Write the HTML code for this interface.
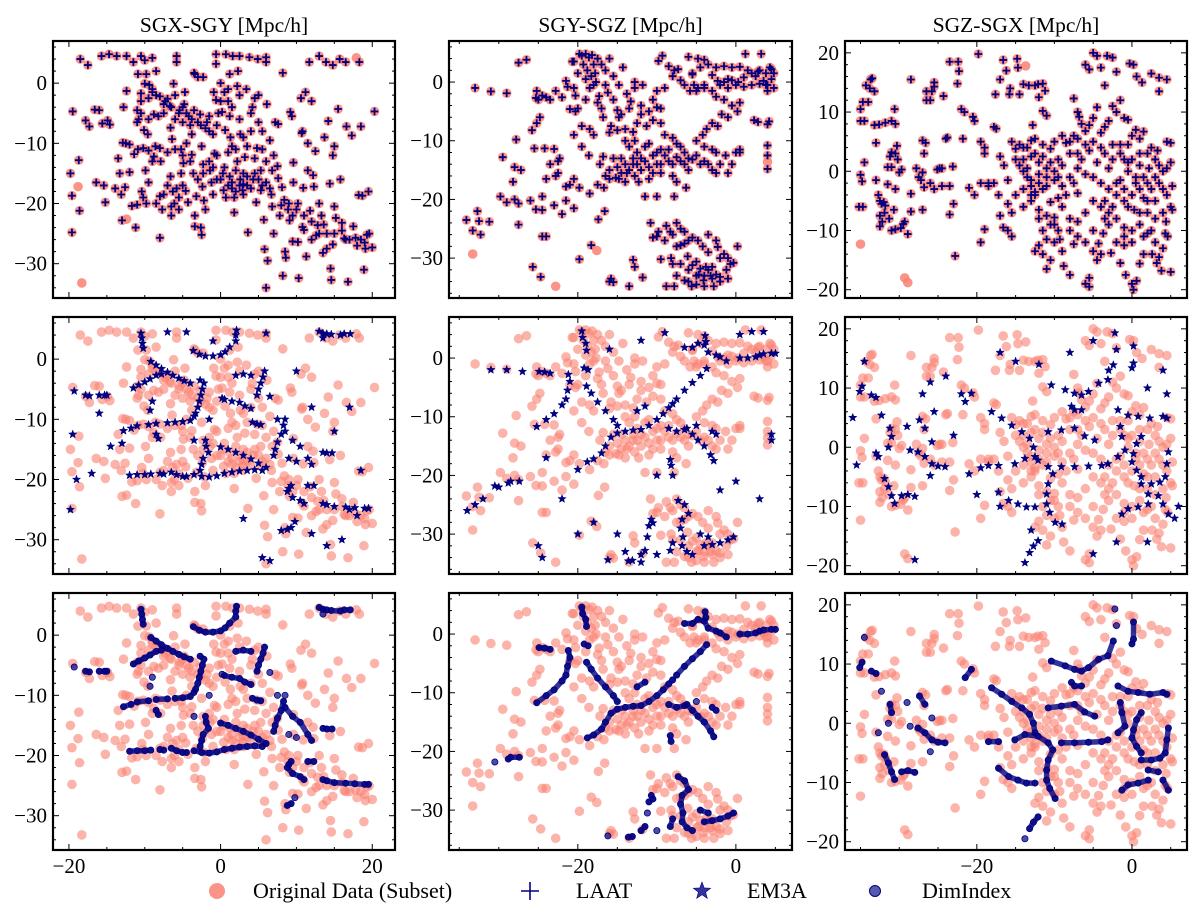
<!DOCTYPE html>
<html>
<head>
<meta charset="utf-8">
<style>
  html,body{margin:0;padding:0;background:#fff;}
  svg{display:block;font-family:"Liberation Serif","Times New Roman",serif;}
</style>
</head>
<body>
<svg id="chart" width="1200" height="923" viewBox="0 0 1200 923" xmlns="http://www.w3.org/2000/svg"></svg>
<script>
// ---------- DATA: column 1 (SGX-SGY) ----------
const col1Orig = [[-18.5,4],[-17.5,3],[-15.7,4.5],[-14.7,4.8],[-13.7,4.5],[-12.4,4.5],[-11.5,3.5],[-10.5,4.5],[-10,3.8],[-9,4.2],[-10.9,1.5],[-9.8,1.5],[-8.5,2],[-5.8,4.5],[-5.8,3.5],[-3.4,1.5],[-2.3,1],[-0.6,4.8],[-0.6,3.2],[0.7,4.8],[1.6,4.5],[2.5,4.5],[2.3,2],[1.2,1.5],[3.8,4.3],[4.9,4],[6,4.3],[6,3.5],[8.2,1.7],[13,4.5],[11.7,3.5],[13.9,3.5],[14.8,3],[15.7,4],[16.5,3.5],[18.3,3.5],
[-19.5,-4.7],[-19.8,-15],[-19.6,-18.7],[-19.6,-24.8],[-18.7,-12.8],[-18.6,-21.2],[-17.8,-6.2],[-17.3,-7.2],[-16.6,-4.4],[-16,-4.5],[-15.6,-6.7],[-16.4,-16.5],[-15.4,-17],[-15.2,-19.8],[-14.9,-6.2],[-14.6,-6.9],[-13.9,-17.5],[-13.5,-12.5],[-13.3,-15],[-13.1,-18.5],[-12.9,-9.9],[-12.5,-10],[-13,-22.8],[-12.6,-17.3],[-12.8,-4],[-12.4,-1.3],[-12,-10.2],[-12,-14.8],[-11.7,-20.4],[-11.2,-24],[-11.4,-11.8],[-10.9,-11],[-11,-20.2],[-10.4,-18],[-10.2,-19],[-9.8,-20],[-10.5,-1.7],[-11,-4.5],[-10.8,-6],[-10.5,-5],[-10.1,-7.8],[-9.6,-8.5],[-10.2,-10.8],[-9.5,-11.2],[-9.9,-14.5],[-9.5,-16.5],[-9,-13],[-10,-0.1],[-9.4,-0.3],[-9,-1],[-8.5,-2],[-8.8,-5.2],[-8.2,-5.5],[-8.6,-10.5],[-8.8,-12.2],[-8,-10.8],[-7.9,-13],[-8,-18.8],[-7.7,-21],[-8,-25.7],[-7.5,-18.5],[-7.3,-3],[-7,-2.6],[-6.7,-3.8],[-6.6,-15.5],[-6.2,-0.1],[-6.4,-9.3],[-6.6,-7.4],[-6.3,-18],[-6.1,-20],[-6.5,-20.5],[-5.8,-17.5],[-5.5,-19],[-5.4,-4.5],[-5,-4],[-4.8,-3.5],[-5,-6.5],[-5.2,-11],[-4.5,-10],[-5.2,-15],[-4.9,-13.3],[-4.6,-17.9],[-4.3,-19.8],[-4.7,-1.5],[-4.2,-5.5],[-3.8,-8.5],[-3.8,-11.9],[-3.6,-15],[-3.4,-22],[-3.4,-23.8],[-3.2,-18.8],[-3.5,1.7],[-3,1],[-2.7,-5.2],[-2.6,-7],[-2.5,-10.5],[-2.3,-13.5],[-2.3,-15],[-2.4,-17.2],[-2.5,-25.2],[-2.6,-24],[-2.2,-19.5],[-2,-21],[-1.8,-6.5],[-1.5,-8],[-1.4,-14.5],[-1.2,-16.5],[-1,-18.5],[-0.8,-11.7],[-0.5,-12],[-0.9,-1.5],[-0.6,-2.8],[-0.3,-5],[0.2,-4.8],[0,0],[0.5,-1.5],[0.6,-7.8],[0.3,-15],[0.4,-17.8],[0.7,-19],[1,-3],[1.2,-5.5],[1.3,-9],[1.5,-10.5],[1.2,-15.5],[1.5,-17.5],[1.8,-19],[1.8,-21.5],[2.2,-0.5],[2.5,-2],[2.5,-6],[2.6,-8.5],[2.2,-13],[2.6,-16],[2.9,-17.8],[3,-15],[3.2,-12.3],[3.5,-10.5],[3.5,-17],[3.6,-24.8],[3.4,-1],[4,-5],[4.2,-4],[4.3,-16],[4.5,-12.5],[4.7,-19.8],[4.8,-10.8],[4.5,-2.5],[5,-2],[5,-6.5],[5.3,-14.5],[5.3,-17.8],[5.5,-11],[5.7,-22.7],[5.8,-27.6],[6.2,-29.5],[6,-34],[6.1,-3.5],[6.5,-9.5],[6.8,-14.5],[6.7,-18.5],[6.8,-20.5],[7,-25],[7.2,-6.5],[7.6,-6.8],[7.5,-13.8],[7.6,-15.8],[7.8,-22],[8.1,-17.3],[8.4,-19.4],[8,-20.3],[8.2,-32],[8.5,-28],[8.6,-29],[8.9,-21],[9.1,-22.8],[9.2,-4.8],[9.4,-5.5],[9.6,-13.2],[9.6,-16.5],[9.5,-26.3],[10.2,-20],[10.2,-26.4],[10.3,-32.4],[10.6,-2.5],[10.7,-8.3],[10.9,-17.4],[10.8,-23.9],[11,-24.4],[11.3,-28.8],[11.5,-14.5],[11.5,-10],[11.2,-1.5],[11.8,-21.2],[12.2,-15.3],[12.5,-11.3],[12.3,-17.2],[12.6,-25.3],[12.8,-23.6],[13.3,-22],[13.5,-28.2],[13.7,-9],[14.2,-6.3],[14.4,-16.7],[14.5,-30.8],[14.6,-32.7],[14.8,-26.8],[15,-20.5],[15.2,-22.4],[14.8,-12],[15,-10.5],[15.5,-4.3],[15.8,-16],[16,-23.2],[16.3,-25.8],[16.6,-7.2],[16.8,-33],[16.5,-26],[17.3,-8.7],[17.5,-23.8],[17.8,-25.7],[18,-27],[18.2,-18.6],[18.5,-7.2],[18.7,-18.7],[18.9,-31],[19.1,-27.5],[19.3,-25.2],[19.5,-18],[19.6,-25],[20,-27.3],[20.3,-4.7],[13.6,-23.5],[12,-3],[10.8,-8]];
const col1Dense = [[-9,-1.5],[-8,-2.2],[-7.5,-3.5],[-6.5,-4],[-6,-2],[-5.5,-5],[-4.5,-5],[-3.8,-6],[-3,-6.5],[-2,-7.5],[-1,-8.5],[-0.5,-7],[-7.5,-5],[-6,-6],[-4,-7],[-3.5,-4.5],[-1.5,-5.5],[0,-3],[1,-1],[1.5,-4],[-1,-14],[0,-16],[0.5,-14],[1.5,-16.5],[2,-14.5],[2.5,-17],[3,-16.8],[3.5,-15.5],[4,-17.5],[4.5,-15],[5,-16],[5.5,-17],[6,-16.5],[6.5,-17.5],[3,-18.5],[2,-18],[1,-17],[-0.5,-16],[-1.5,-13],[9,-20],[9.5,-22],[10,-21],[11,-22],[12,-23],[13,-25],[14,-25],[15,-25],[16,-24.5],[17,-26],[18.5,-26],[19,-26.5],[12,-26],[14,-27.5],[13,-20],[-10.5,-3],[-9.5,-2.5],[-11,-6.5],[-9.5,-6],[-7,-11.5],[-6,-11],[-5,-12],[-4,-13],[-3,-16],[-5,-17],[-7,-17],[-8.5,-20],[-6.5,-22],[-5.5,-21],[1,-11.5],[2,-11],[3,-9],[4,-8],[5.5,-8],[6,-13],[7,-12]];
const col1OrigOnly = [[-18.8,-17.2],[-18.3,-33.2],[-12.4,-22.6],[17.9,4.2]];
const col1Chains = [
 [[-10.5,4.3],[-10.4,3.5],[-10.3,2.6],[-10.2,1.8]],
 [[-9.2,-0.4],[-8.5,-1],[-7.8,-1.6],[-7,-2.2],[-6.3,-2.7],[-5.5,-3.2],[-4.8,-3.6],[-4,-4]],
 [[-11.5,-4.8],[-10.8,-4.3],[-10,-3.8],[-9.3,-3.3],[-8.5,-2.7],[-7.8,-2.5]],
 [[-19.3,-5.3]],[[-17.8,-6],[-17.3,-6.1]],[[-16,-6],[-15.3,-6],[-15,-6]],
 [[-12.8,-11.9],[-11.8,-11.5]],[[-11,-11.1],[-9.5,-10.9]],[[-8.5,-10.7],[-7,-10.6]],[[-6,-10.5],[-5,-10.4],[-4,-10.2],[-3.5,-9.5]],
 [[-3.3,-9],[-3,-8],[-2.8,-7],[-2.6,-6],[-2.4,-5],[-2.2,-4],[-2.7,-3.5]],
 [[-3.6,1.4],[-2.8,0.8],[-2,0.5],[-1,0.5],[0,0.7],[0.6,1.2],[1.2,2],[2,3],[2,4],[2.1,4.8]],
 [[-2,-13.5],[-1.9,-14.5],[-1.6,-15.5],[-2.3,-16.5],[-2.5,-17.5],[-2.7,-18.5]],
 [[0,-14.6],[1,-15],[2,-15.5],[3,-16],[4,-16.6],[5,-17.3],[6,-18]],
 [[-3.5,-19.2],[-2.5,-19.5],[-1.5,-19.6],[-0.5,-19.4],[0.5,-19],[1.5,-18.8],[2.5,-18.6],[3.5,-18.5],[4.5,-18.4],[5.5,-18.5]],
 [[-12,-19.3],[-11,-19.2],[-10,-19.2],[-9.2,-19.1]],[[-8,-19],[-7.5,-19.1]],[[-6.5,-18.8],[-5.8,-19.2],[-5,-19.5],[-4.5,-19.5]],
 [[0.5,-6.7],[1.5,-7],[2.5,-7.2],[3.2,-7.8],[4,-8.2]],[[2,-2.7],[3,-2.5],[4,-2.7]],
 [[5.8,-2],[5.6,-3],[5.3,-4],[5,-5],[4.8,-6]],
 [[7,-16],[7.2,-15],[7.5,-13.8],[8,-12.5],[8.3,-11]],
 [[8.5,-12],[9.5,-13.5],[10.5,-14.5],[11.5,-16.5],[12,-17.5]],
 [[13.5,-15.5],[14,-15.6],[14.7,-15.6]],
 [[9.3,-21],[9,-21.5],[8.8,-22],[9.5,-23],[10.5,-23.5],[11,-24]],
 [[11.5,-21],[12.3,-21]],[[13.5,-24],[14,-24.2],[15,-24.5],[16.5,-24.6],[17.7,-24.7],[19,-24.8],[19.5,-24.8]],
 [[8.8,-28.3],[9.3,-28]],[[9.8,-27]],
 [[13,4.6],[13.5,4.3],[14,4.2],[14.6,4.1],[15.8,4],[16.3,4.2],[17.1,4.2]],[[13.5,3.5]],
 [[-9.3,-8.5]],[[-9,-7]],[[-8.5,-12.5],[-8.2,-13.2]],[[-3.5,-13.5]],[[-1.5,-10]],[[0.2,-6.5]],[[4.2,-10.5],[4.8,-10.8],[5.3,-10.9]],[[6.5,-6.2]],[[7.5,-10]],[[8.5,-10]],[[9,-16.5]],[[10,-17]]
];
const col1StarExtra = [[-19.5,-12.5],[-19,-20],[-19.8,-25],[-17,-19],[-14.5,-14.5],[-13,-14],[-16,-9],[-7,4.5],[-4.5,4.5],[-1,3],[6,4.3],[10,-2],[12,-8],[15,-12],[17,-8],[18.5,-18.5],[17,-25],[18,-26],[16,-30],[14,-31],[12,-29],[6.5,-33.5],[5.5,-33],[8,-28.5],[3,-26.5]];

// ---------- DATA: column 2 (SGY-SGZ) ----------
const col2Orig = [[-34.1,-23.5],[-33.3,-25.3],[-32.7,-22],[-32.5,-23.7],[-32.3,-26],[-31.2,-23.8],[-33,-1],[-31,-1.6],[-29,-1.9],[-27.5,3.3],[-26.5,3.8],[-25.2,-1.5],[-25.3,-2.7],[-25,-3],[-24.5,-2.3],[-24,-2.6],[-23.5,-3],[-22.8,-1.5],[-22,-2.6],[-21.5,0.2],[-21.3,-0.8],[-20.7,3.5],[-20.5,-1],[-20.3,-2.3],[-19.8,4.8],[-19.5,4.5],[-19,4.8],[-18.6,4.2],[-18.2,4.6],[-18,3],[-17.8,1.5],[-17.7,0],[-17.3,-2.4],[-17.5,-3.5],[-17,-4.5],[-16.8,-6],[-16.5,-0.5],[-16.2,-1.8],[-18.5,-1],[-19,-3],[-20,-4.5],[-21,-4.6],[-20.3,-5],[-19.5,-7.5],[-20.5,-9],[-18.5,-8],[-18,-9],[-15.5,-3],[-15,-4.8],[-14.8,-6],[-14.5,-5.5],[-15.8,-7.5],[-16,-8.6],[-15,-8.2],[-14,-8],[-13,-8.5],[-12.5,-7],[-13.8,-2],[-13.5,-4.5],[-12.8,-10],[-12.5,-12],[-12,-13],[-11.5,-11],[-11,-10.5],[-10.5,-12.5],[-10,-14],[-13,-14],[-13.5,-15],[-14,-14],[-14.5,-15.5],[-15.5,-13],[-16,-15],[-16.8,-12.7],[-17.2,-14],[-15.2,-16.3],[-14.8,-16.5],[-14,-17],[-12.3,-17],[-11,-16.5],[-9.5,-15.5],[-16.7,-18],[-17.5,-17.5],[-18.5,-19],[-19.8,-18],[-21,-17.5],[-22.8,-16],[-24,-16.5],[-23.5,-14],[-22.3,-13],[-21.5,-17.8],[-21.5,-20.2],[-20.5,-21.5],[-22,-22.5],[-23,-21],[-24.5,-21.8],[-25.3,-21.7],[-24.5,-19.5],[-26,-20.2],[-27.5,-20.7],[-28,-20],[-29,-20.5],[-29.8,-19.5],[-27.5,-24.3],[-28.2,-17],[-27.2,-15],[-28,-14.5],[-29.5,-12.8],[-27.8,-9.8],[-25.8,-8.2],[-25.2,-7],[-24.8,-6],[-25.5,-11.3],[-24.2,-11.3],[-23,-11.4],[-22.5,-13.5],[-22.5,-15.5],[-24.5,-26.3],[-24,-26.3],[-25.7,-31.5],[-24.7,-33.2],[-19.8,-30.2],[-18.3,-27.8],[-16.6,-22],[-17.4,-23.4],[-18.6,-12.5],[-19.5,-11],[-20.5,-16.5],[-16,-34],[-15.8,-33.5],[-15.5,-34.1],[-13.5,-34.8],[-13,-30.3],[-12.8,-31.5],[-11.8,-33.3],[-10.8,-24],[-10.5,-26.5],[-10,-26.3],[-9.8,-25.5],[-9.5,-30.2],[-8.8,-34.8],[-8.8,-24.5],[-8.3,-25.5],[-8.2,-30],[-8,-31],[-7.8,-34.8],[-7.5,-24],[-7.5,-33],[-7,-25],[-7,-27.8],[-6.5,-25.5],[-6.5,-33.8],[-6.5,-27.5],[-6,-27],[-6.1,-29.7],[-5.5,-26.5],[-5.5,-31.2],[-5.6,-34.8],[-5,-30.6],[-4.8,-27],[-4.7,-32.8],[-4.5,-31.8],[-4.2,-28],[-4.1,-33.8],[-4,-34.8],[-3.8,-31.5],[-3.5,-32],[-3.2,-33],[-3.5,-26],[-3,-31.5],[-2.5,-27],[-2.8,-34.8],[-2.5,-32.8],[-2.3,-28.1],[-2,-33.2],[-1.2,-32],[-1,-33.5],[-1.5,-29.3],[-0.7,-31],[-0.3,-30.8],[0.2,-28],[-11.5,-19.5],[-10,-19.5],[-11.8,-0.5],[-10.5,-3],[-10,-1.5],[-9,-1],[-9.8,3.6],[-9.3,4.5],[-8.5,2.7],[-7.8,2],[-7.3,2.2],[-13.3,-3.3],[-12.8,0],[-12,-4],[-11,-5],[-10,-4.3],[-9.5,-7],[-9,-9],[-8,-9.5],[-7.5,-10.5],[-7,-11],[-6.5,-12],[-8.5,-11.5],[-9.5,-14],[-8,-16],[-7.5,-17],[-7.8,-19.5],[-6.3,-18],[-6,-15],[-5.5,-13.2],[-5,-12.5],[-4.5,-14],[-4,-13.5],[-3.5,-14],[-3,-15],[-2.5,-15.5],[-2,-14],[-1,-15.5],[-0.5,-14],[0.5,-12],[-1.3,-12.5],[-2.5,-12],[-3,-11.5],[-4,-11],[-5,-10],[-4.2,-9],[-3.7,-8],[-3,-7],[-2.3,-7.5],[-1.8,-5.5],[-1,-6],[-0.5,-4],[0.5,-3.5],[0.2,-5],[-1.5,-3],[-2.5,-2.5],[-3,-1.5],[-4,-0.5],[-4.8,-1],[-5.3,-0.5],[-5.8,-1.5],[-6.5,-0.5],[-7,0.3],[-8,1],[-5.5,1.3],[-4.5,2.5],[-3.5,3],[-3,1.2],[-2.3,0.2],[-1.5,0],[-1,0.5],[-0.5,0.3],[0.3,0],[1,0.8],[1.5,2],[2,1.5],[2.5,1],[3,2],[3.5,0.2],[3.8,-0.5],[4,-1.5],[4.3,2.5],[4.5,0.5],[3.2,4.8],[1.2,4.8],[0.5,2.6],[-0.5,2.5],[-1.5,2.7],[-2.5,2.5],[-4,3.8],[-4.8,4],[-6,4.3],[-5.5,1.5],[4.2,-6.7],[4,-7.2],[2.3,-6.5],[2.8,-6.8],[0.5,-11.5],[0,-12],[4,-10.8],[4,-12.5],[4,-14.8],[-12.8,-1],[-14.3,2.5],[-14.8,-0.5],[-9.5,-4.5],[-10.5,-6.5],[-11.3,-7.5],[-12,-5.5]];
const col2Dense = [[-20.5,3.5],[-19.3,3],[-18.8,2],[-18.3,1],[-17.5,4],[-17,3],[-16.5,2],[-19,0.5],[-18,-0.5],[-20,1.5],[-16,4],[-15.5,1],[-14,-10],[-13.5,-11],[-13,-13],[-12.5,-14],[-12,-15],[-11.5,-13.5],[-11,-14.5],[-10.5,-15.5],[-10,-12],[-9.5,-11.5],[-9,-12.5],[-8.5,-13.5],[-8,-14],[-7.5,-12.8],[-7,-13.5],[-6.5,-14],[-6,-13],[-14.5,-13],[-15,-14.5],[-13.8,-15.5],[-12.8,-16],[-16,-16.5],[-16.5,-16],[-5,-1.5],[-4,-1],[-2,-0.5],[-1,-1],[0,-0.5],[1,-0.8],[2,-0.5],[3,-0.3],[4,-0.5],[4.8,-1],[4.8,1.5],[4.5,2.2],[3.8,1.5],[2.8,1.8],[-7,-31],[-6,-32],[-5,-33],[-4,-33],[-3,-33.5],[-2,-34],[-6,-34],[-5,-34.5],[-7.5,-28],[-8,-26],[-9,-27],[-1,-30],[-2,-30],[-3.5,-29]];
const col2OrigOnly = [[-33.3,-29.3],[-22.8,-34.8],[-17.6,-28.7],[4,-13.6]];
const col2Chains = [
 [[-19.5,4.6],[-19.4,3.5],[-19,2.5],[-18.9,1.3]],
 [[-19.2,-1.7],[-18.7,-2]],
 [[-24.9,-2.3],[-24.2,-2.4],[-23.5,-2.6]],
 [[-21.2,-2.8],[-21,-4],[-21.3,-5.5],[-21.5,-7],[-22,-8],[-23,-9.5],[-24,-10.5],[-25.2,-11.7]],
 [[-18.9,-4.8],[-18.3,-6],[-17.5,-7.5],[-16.5,-9],[-15.5,-10.5],[-15,-11.5]],
 [[-18.8,-17.7],[-18,-17.2],[-17,-16.2],[-16.5,-15],[-15.8,-13.5],[-15,-12.8],[-14,-12.5],[-13,-12.3],[-12,-12.2],[-11,-11.5],[-10,-10.5],[-9.2,-9.5],[-8.5,-8.5],[-8,-7.8]],
 [[-12.5,-9],[-11.5,-8.2]],
 [[-7.5,-7],[-6.5,-5.5],[-5.5,-4.2],[-4.5,-3],[-3.7,-1.8]],
 [[-3.9,3.8],[-3.8,2.8]],
 [[-6.5,1.8],[-5.5,1.8],[-4.8,2.5],[-4,2.2],[-3.5,1],[-2.5,0.5],[-2,0.2],[-1.2,-0.5]],
 [[0.5,0],[1.5,0],[2.5,0.2],[3,0.5],[3.5,0.7],[4.5,0.8],[5,0.8]],
 [[-6.2,-12],[-5.5,-13],[-4.8,-14],[-4,-15],[-3.2,-16.5],[-2.8,-17.5]],
 [[-8.5,-12],[-7.5,-12.5],[-6.5,-12.2]],[[-5,-11.5]],[[-3,-12.5],[-2.5,-13]],
 [[-8.3,-17.3],[-8.2,-18.3]],
 [[-30.5,-21.8]],[[-28.8,-21.3],[-28.5,-21],[-27.4,-21]],
 [[-10.7,-27.5],[-10.5,-28.1],[-11,-28.6]],[[-11.2,-30.5]],
 [[-7.3,-24.3],[-6.5,-25],[-6,-26.5],[-6.8,-27.5],[-7,-29],[-6.7,-30.5],[-6.8,-32],[-6.2,-33],[-5.5,-33.5]],
 [[-4,-32],[-3,-31.8],[-2,-31.5],[-1,-31],[-0.3,-30.5]],
 [[-4.5,-30],[-3.5,-30.5]],[[-8,-31.5],[-8.3,-32.8]],
 [[-16.2,-34.4]],[[-13.6,-34.6],[-13.1,-34.5]],[[-12,-33.5],[-11.5,-32.8]],[[-10,-33.5]]
];
const col2StarExtra = [[-34,-26],[-33,-25],[-32,-24],[-30,-22],[-31,-2],[-29,-2],[-27,-2.3],[-25,-32],[-24.5,-34],[-22,-24],[-20,-30],[-18,-28],[-15,-30],[-14,-33],[-12,-34.8],[3,-24],[4.5,-13],[4.5,-14],[3.5,4.5],[2,4.5],[0.5,4],[-9,4.3],[-12,3],[-16,1.5],[-8,-20],[-10,-20],[-2,-22.5],[0,-21],[-24,-17],[-20,-19]];

// ---------- DATA: column 3 (SGZ-SGX) ----------
const col3Orig = [[-35,-0.6],[-34.8,-1.7],[-34.5,1.5],[-35.2,-6],[-34.7,-6],[-35,8.5],[-34.5,8.5],[-35,10.5],[-34.7,11.7],[-34,11.7],[-34.3,14.5],[-33.8,14],[-33.7,15.5],[-33.5,15.7],[-33.2,13.5],[-33.2,7.8],[-32.6,7.9],[-33,4.8],[-33,-1.5],[-32.7,-4],[-32.5,-5],[-32.3,-5.5],[-32,-5.2],[-31.8,-5.8],[-31.9,-7],[-32.5,-7.5],[-32.5,-9.3],[-32.2,-8.5],[-31.3,-8],[-31,-10],[-30.5,-9.8],[-30.7,-6.5],[-31,0.7],[-31.5,0.7],[-31.2,2.5],[-31,3.2],[-30.5,3],[-31.5,-2.2],[-31.8,8.2],[-31,8.5],[-30.6,10.5],[-30.5,8],[-30.3,4.3],[-30.2,2],[-30,-0.2],[-30.5,-3],[-29.7,0.3],[-29.8,-9.6],[-29.5,-8.9],[-29.3,-8.5],[-28.9,-10.6],[-28.5,-6.8],[-28.5,-3.8],[-28.5,15.5],[-27.8,0.5],[-27.5,-1],[-27.2,-1.5],[-27,-0.2],[-27,-6.5],[-26.8,-2.7],[-27,5.2],[-26.6,4.8],[-26.8,3],[-26.5,12],[-26,12],[-26.5,13.5],[-25.8,13.5],[-25.5,15],[-25.5,14.3],[-26,-2],[-25.5,-3],[-25.1,0.3],[-24.8,0.5],[-24.5,0.5],[-24.3,12.7],[-24,5.5],[-23.8,5.7],[-24.5,-2.5],[-23.5,-2.5],[-23.5,-7.3],[-23,-5.5],[-22.8,-14.3],[-23.1,0.8],[-23.5,18.5],[-22.4,18.5],[-22.3,16.9],[-22.5,14.8],[-22,10.5],[-21.6,10],[-21.8,5.5],[-20.5,9.2],[-20.3,8.5],[-21,-2.8],[-20.3,-4],[-19.5,5],[-19,4],[-19,3],[-19.5,-2],[-19,-9.8],[-19.5,-12],[-19.8,19.8],[-18.5,-2],[-18.5,-2.5],[-17.8,7.5],[-17.5,7.2],[-17.8,-2],[-17.6,13],[-17,15.5],[-17.2,-4],[-17,-7.5],[-16.6,-9.5],[-16,-10],[-16.6,18.8],[-16.2,17],[-15.7,14],[-15.8,13],[-15.5,-11],[-14.8,19],[-14.7,17.5],[-14.5,13],[-14,14.7],[-13.3,14.5],[-12.8,7.8],[-12.5,14.5],[-12,12.5],[-12.1,14.7],[-11.5,10.2],[-11,9.4],[-11.2,13.6],[-11.5,14.8],[-10.5,-5.2],[-10,-7.8],[-10,-9],[-9.5,-10],[-9.3,-11.5],[-9,-13.5],[-8.8,-16],[-8,-17.5],[-7.5,-12.3],[-7.5,12.3],[-7,-3.7],[-7,10],[-6.8,9.2],[-6,-19],[-5.5,-19.5],[-5.5,-18],[-5,-13.5],[-4.5,-15],[-4.3,-12.2],[-4,-14],[-3.7,-10.5],[-3,-7],[-2.7,-13.8],[-2,-12],[-1.5,-15.5],[-1,-12.5],[-0.8,-17.5],[0,-19],[0.2,-20],[0.6,-18.5],[1,-15.6],[1.5,-14],[2,-10.5],[2.6,-14],[3.2,-15.5],[3.5,-14.5],[3.8,-16.8],[4.3,-10.5],[4.6,-11],[5,-17],[4.4,-8.5],[5,-6],[5.2,-6.5],[5.2,-2.5],[5,1.5],[4.5,0.5],[5,4.8],[4.5,5],[4.5,15.5],[3.5,13.5],[3.5,15.8],[2.5,16.5],[1.3,15],[0.6,16],[0.2,18],[-0.3,18.2],[-2,16.8],[-2.5,19.2],[-3.2,19.5],[-3.5,14.5],[-4.5,19.5],[-5,20],[-5.5,17.2],[-6,18],[-4,17.5],[-15.5,5],[-15,3.8],[-14.5,4.5],[-14,2],[-13.5,4],[-13,5.2],[-12.5,3],[-12,1.5],[-11.5,2.5],[-11,0.5],[-10.5,3.8],[-10,5],[-9.5,2],[-9,1],[-8.5,4.8],[-8,3],[-7.5,6],[-7,5.5],[-6.5,8],[-6,6.8],[-5.5,7.8],[-5,9],[-4.5,10.8],[-4,6.5],[-3.5,7.5],[-3,8.5],[-2.5,11],[-2,10],[-1.5,12],[-1,9],[-0.5,8.7],[0,6],[0.5,7],[1,5.5],[1.5,6.7],[2,3],[2.5,4],[3,2],[3.5,1],[4,0],[3,-1],[2,-2],[1,-3],[0,-4],[-1,-5],[-2,-4],[-3,-3],[-4,-2],[-5,-1],[-6,-0.5],[-7,0.5],[-8,-1],[-9,-2.5],[-10,-1.5],[-11,-2.5],[-12,-2],[-13,-1.5],[-14,-3],[-15,-4],[-16,-5.5],[-15.5,-7],[-14,-6],[-13,-5],[-12,-6.5],[-11,-7.5],[-9,-6],[-8,-8],[-7,-8.5],[-6,-7],[-5,-5],[-4,-6],[-3,-9],[-2,-8],[-1,-9.5],[0,-10],[1,-9],[2,-7],[3,-5],[4,-3],[1.5,-4.5],[0.5,-1],[-0.5,1.5],[-1.5,3],[-2.5,4.5],[-3.5,3],[-4.5,1.5],[-5.5,3.5],[-6.5,2],[-7.5,-2],[-8.5,-4],[-9.5,-4.5],[-12.5,-4],[-13.5,0.5],[-16.5,1],[-17,2.5],[-16,-1.5],[-0.5,4.5],[1,1],[2.2,0.5],[3.3,3.5],[-1.5,-1.5],[-2.5,-6],[0.3,-6.5],[-3.5,-5]];
const col3Dense = [[-15,2],[-14.5,1],[-14,0],[-13.5,-1],[-13,-2.5],[-12.5,-3.5],[-11.5,-3],[-11,-1],[-10.5,1.5],[-10,0],[-9.5,-1],[-11.5,4.5],[-12.5,5.5],[-13,2.5],[-14,4],[-12,-0.5],[-13,-4],[-10.5,-9],[-11.5,-10],[-11,-11.5],[-10,-12],[-12,-12.5],[-11.5,-14],[-10.5,-15],[-11,-16.5],[-12.5,-13.5],[-12,-8],[-1,2],[0,2],[1,3],[-0.5,0],[0.5,-2],[1.5,-1],[-1,-3],[-0.5,-6],[1,-7],[2,-5],[2.5,-3],[3.5,-2],[4.5,-4],[4,-7],[3,-8],[2.5,-10],[1.5,-11],[0,-12],[-1,-11],[3,-12],[4,-13],[-1.5,4.5],[-2.5,2],[-3,0.5],[-2,-2],[-4,4],[-5,5],[-6,4.5],[-7,3],[-8,5],[-9,6],[-3.5,-8],[-5,-10],[-6,-12],[-7,-11],[-8,-10]];
const col3OrigOnly = [[-35,-12.3],[-29.3,-18],[-28.9,-18.8],[-13.7,17.8]];
const col3Chains = [
 [[-34.5,14.5]],[[-34.8,10.3],[-35.1,9.4]],[[-33.6,8.8],[-33,8.4]],[[-32.3,5.4]],
 [[-31.2,3.2],[-31,1.8]],[[-31.4,0]],[[-32.7,-1.6]],
 [[-31.9,-5.3],[-31.4,-6.7],[-31,-8.2],[-30.6,-9.5]],
 [[-29.7,-8.2],[-28.9,-8],[-28,-8.3]],
 [[-29,3.5]],[[-27.4,4.6],[-26.7,3.2]],[[-25.8,0.9]],[[-28.6,-0.5]],
 [[-27.6,-0.8],[-26.7,-1.6],[-25.8,-2.8],[-25,-3.2],[-24.1,-3.3]],[[-26,-4.8]],
 [[-20.7,9.1],[-21.5,7.7]],
 [[-18.1,6],[-16.8,4.9],[-15.5,3.7],[-14.2,2.6],[-13.2,1.5],[-12.7,0],[-12.5,-1.6]],
 [[-15.1,-2.8],[-13.8,-1.9],[-12.1,-2.2],[-10.8,-3.3],[-10.2,-4.5],[-10.8,-6.2],[-11,-7.9],[-11,-9.6],[-10.6,-11],[-9.9,-12.7]],
 [[-9.1,-3.3],[-7.4,-3.3],[-5.6,-3.2],[-3.9,-3.1],[-3.1,-2.8]],
 [[-18.5,-3.1],[-17.2,-3.1]],
 [[-17.2,-7.6],[-15.9,-9],[-14.7,-9.6],[-13.6,-10.1],[-12.5,-10.1]],
 [[-12.1,-15.8],[-12.7,-16.7],[-13.2,-17.8]],[[-13.8,-19.5]],
 [[-10.8,2.6],[-9.1,2.9],[-7.4,3.2],[-6.1,1.9],[-4.8,1.2]],
 [[-10.4,10.5],[-8.6,9.7],[-7.4,9.1],[-6.5,8.8],[-5.6,9.4],[-4.3,10.8],[-3.1,11.4],[-2.4,13.9]],
 [[-2.2,19.3]],[[-2,16.5]],
 [[-7.8,6.9],[-7.4,6.3],[-6.5,6.3]],
 [[0.2,17.1],[0.2,14.2],[0,13.4]],
 [[-1.8,6.3],[-0.5,5.4],[0.8,5.2],[2.3,4.9],[4,5.2],[4.5,4.9]],
 [[1.2,1.8],[0.6,0.6],[0.2,-1.1],[0,-2.5],[0.6,-3.9],[1.2,-5]],
 [[-1.5,3.5],[-1.3,1.8],[-0.9,-0.5],[-1.8,-1.6]],
 [[1.2,-6.2],[2.5,-6.2],[3.6,-5.9],[4.3,-5],[4.5,-2.8],[4.7,-0.8]],
 [[-1.3,-11.3],[-0.5,-10.4],[0.8,-10.1],[2.1,-9.6]],
 [[2.1,-7.9],[3.4,-8.2]],[[4,-9.6],[4.7,-11.3]]
];
const col3StarExtra = [[-36,5],[-35.5,-3],[-33,-1],[-27,9],[-26,11],[-24,12],[-22,9],[-21,-4.5],[-19.5,-3.5],[-28,-19],[-25.5,6],[-17,16],[-15,14.5],[-12,14],[-8,16],[-5,18],[-3,13],[2,10],[4,13],[4.5,9],[5.5,-12],[6,-10],[2,-16],[-2,-16],[-5,-18],[-9,-13],[-13,-14],[-17,-10],[-20,-8],[-23,2]];

// ---------- tick labels ----------
const col1XTicks = [-20, 0, 20];
const col2XTicks = [-20, 0];
const col3XTicks = [-20, 0];
const col1YTicks = [0, -10, -20, -30];
const col2YTicks = [0, -10, -20, -30];
const col3YTicks = [20, 10, 0, -10, -20];
const columnTitles = ["SGX-SGY [Mpc/h]", "SGY-SGZ [Mpc/h]", "SGZ-SGX [Mpc/h]"];
const legendLabels = ["Original Data (Subset)", "LAAT", "EM3A", "DimIndex"];

// ---------- layout ----------
const NS = "http://www.w3.org/2000/svg";
const svg = document.getElementById("chart");
const rowTops = [41, 317, 593];
const panelH = 257;
const colLayout = [
  {x0: 53,  x1: 395,  xd: [-22.1, 23.0], yd: [-35.7, 7]},
  {x0: 449, x1: 792,  xd: [-36.3, 7.1],  yd: [-36.8, 7]},
  {x0: 845, x1: 1187, xd: [-37.0, 7.1],  yd: [-21.4, 22]}
];
const colData = [
  {orig: col1Orig.concat(col1Dense), only: col1OrigOnly, chains: col1Chains, stars: col1StarExtra, xt: col1XTicks, yt: col1YTicks},
  {orig: col2Orig.concat(col2Dense), only: col2OrigOnly, chains: col2Chains, stars: col2StarExtra, xt: col2XTicks, yt: col2YTicks},
  {orig: col3Orig.concat(col3Dense), only: col3OrigOnly, chains: col3Chains, stars: col3StarExtra, xt: col3XTicks, yt: col3YTicks}
];
const SALMON = "#fa8072", NAVY = "#000080";

function make(tag, attrs, parent) {
  const el = document.createElementNS(NS, tag);
  for (const k in attrs) el.setAttribute(k, attrs[k]);
  (parent || svg).appendChild(el);
  return el;
}
function fmt(v) { return v < 0 ? "\u2212" + Math.abs(v) : String(v); }
function starPath(cx, cy, R, r) {
  let d = "";
  for (let i = 0; i < 10; i++) {
    const a = -Math.PI / 2 + i * Math.PI / 5;
    const rad = i % 2 === 0 ? R : r;
    d += (i === 0 ? "M" : "L") + (cx + rad * Math.cos(a)).toFixed(2) + "," + (cy + rad * Math.sin(a)).toFixed(2);
  }
  return d + "Z";
}

colLayout.forEach((L, ci) => {
  const D = colData[ci];
  const xs = v => L.x0 + (v - L.xd[0]) / (L.xd[1] - L.xd[0]) * (L.x1 - L.x0);

  const title = make("text", {x: (L.x0 + L.x1) / 2, y: 32, "text-anchor": "middle", "font-size": 21.5, fill: "#000"});
  title.textContent = columnTitles[ci];
  
  

  rowTops.forEach((top, ri) => {
    const bottom = top + panelH;
    const ys = v => bottom - (v - L.yd[0]) / (L.yd[1] - L.yd[0]) * panelH;
    const g = make("g", {});
    
    
    const clipId = "clip" + ri + ci;
    const cp = make("clipPath", {id: clipId}, g);
    make("rect", {x: L.x0, y: top, width: L.x1 - L.x0, height: panelH}, cp);
    const marks = make("g", {"clip-path": "url(#" + clipId + ")"}, g);
    
    

    const origAlpha = ri === 0 ? 0.85 : 0.6;
    D.orig.concat(D.only).forEach(p => {
      const c = make("circle", {cx: xs(p[0]), cy: ys(p[1]), r: 4.8, fill: SALMON, "fill-opacity": origAlpha}, marks);
      
      
    });

    if (ri === 0) {
      D.orig.forEach(p => {
        const cx = xs(p[0]), cy = ys(p[1]);
        const pl = make("path", {d: "M" + (cx - 3.8) + "," + cy + "H" + (cx + 3.8) + "M" + cx + "," + (cy - 3.8) + "V" + (cy + 3.8), stroke: NAVY, "stroke-width": 1.8}, marks);
        
        
      });
    } else if (ri === 1) {
      const starPts = [];
      D.chains.forEach(ch => ch.forEach(p => starPts.push(p)));
      starPts.concat(D.stars).forEach(p => {
        const s = make("path", {d: starPath(xs(p[0]), ys(p[1]), 4.3, 1.8), fill: NAVY, stroke: NAVY, "stroke-width": 0.5}, marks);
        
        
      });
    } else {
      D.chains.forEach(ch => {
        if (ch.length > 1) {
          const d = ch.map((p, i) => (i ? "L" : "M") + xs(p[0]).toFixed(1) + "," + ys(p[1]).toFixed(1)).join("");
          const ln = make("path", {d: d, fill: "none", stroke: NAVY, "stroke-opacity": 0.8, "stroke-width": 5.5, "stroke-linecap": "round", "stroke-linejoin": "round"}, marks);
          
          
        }
        ch.forEach(p => {
          const c = make("circle", {cx: xs(p[0]), cy: ys(p[1]), r: 3.1, fill: NAVY, "fill-opacity": 0.7, stroke: NAVY, "stroke-width": 0.8}, marks);
          
          
        });
      });
    }

    const tk = make("g", {stroke: "#000", "stroke-width": 1}, g);
    
    
    for (let v = Math.ceil(L.xd[0] / 5) * 5; v <= L.xd[1]; v += 5) {
      const x = xs(v), len = v % 20 === 0 ? 6 : 3;
      make("line", {x1: x, x2: x, y1: bottom, y2: bottom - len}, tk);
      make("line", {x1: x, x2: x, y1: top, y2: top + len}, tk);
    }
    for (let v = Math.ceil(L.yd[0] / 2) * 2; v <= L.yd[1]; v += 2) {
      const y = ys(v), len = v % 10 === 0 ? 6 : 3;
      make("line", {x1: L.x0, x2: L.x0 + len, y1: y, y2: y}, tk);
      make("line", {x1: L.x1, x2: L.x1 - len, y1: y, y2: y}, tk);
    }
    D.yt.forEach(v => {
      const t = make("text", {x: L.x0 - 6, y: ys(v) + 7, "text-anchor": "end", "font-size": 21, fill: "#000"}, g);
      t.textContent = fmt(v);
      
      
    });
    if (ri === 2) {
      D.xt.forEach(v => {
        const t = make("text", {x: xs(v), y: bottom + 23, "text-anchor": "middle", "font-size": 21, fill: "#000"}, g);
        t.textContent = fmt(v);
        
        
      });
    }
    const frame = make("rect", {x: L.x0, y: top, width: L.x1 - L.x0, height: panelH, fill: "none", stroke: "#000", "stroke-width": 2.2}, g);
    
    
  });
});

// ---------- legend ----------
const lg = make("g", {});


const ly = 891;
const lc = make("circle", {cx: 217, cy: ly, r: 8, fill: SALMON, "fill-opacity": 0.85}, lg);


const lp = make("path", {d: "M521," + ly + "H539M530," + (ly - 9) + "V" + (ly + 9), stroke: NAVY, "stroke-width": 1.6}, lg);


const ls = make("path", {d: starPath(702, ly, 9, 3.8), fill: NAVY, "fill-opacity": 0.8, stroke: NAVY, "stroke-width": 0.6}, lg);


const ld = make("circle", {cx: 875, cy: ly, r: 5.5, fill: NAVY, "fill-opacity": 0.65, stroke: NAVY, "stroke-width": 1}, lg);


const legendX = [253, 576, 747, 922];
legendLabels.forEach((txt, i) => {
  const t = make("text", {x: legendX[i], y: ly + 7, "font-size": 22, fill: "#000"}, lg);
  t.textContent = txt;
  
  
});
</script>
</body>
</html>
